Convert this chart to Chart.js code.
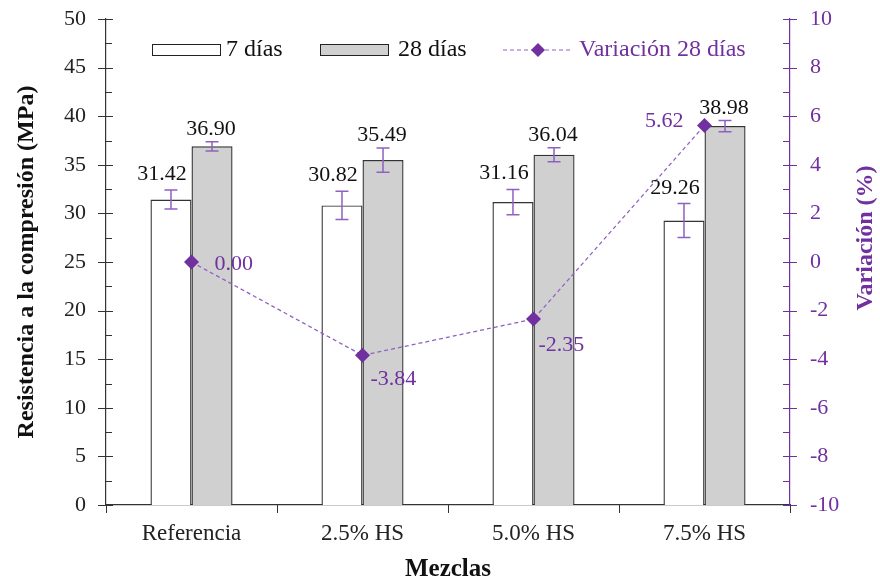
<!DOCTYPE html>
<html>
<head>
<meta charset="utf-8">
<script src="https://cdn.jsdelivr.net/npm/chart.js@4/dist/chart.umd.min.js"></script>
<style>
  html, body { margin: 0; padding: 0; background: #fff; }
  #wrap { width: 880px; height: 583px; }
</style>
</head>
<body>
<div id="wrap"><canvas id="chart" width="880" height="583"></canvas></div>
<script>
const mezclas = ["Referencia", "2.5% HS", "5.0% HS", "7.5% HS"];
const dias7 = [31.42, 30.82, 31.16, 29.26];
const dias28 = [36.90, 35.49, 36.04, 38.98];
const err7 = [0.98, 1.45, 1.3, 1.75];
const err28 = [0.48, 1.25, 0.72, 0.57];
const variacion = [0.00, -3.84, -2.35, 5.62];

const purple = "#7030A0";
const linePurple = "#9060c0";
const serif = "'Liberation Serif', 'Times New Roman', serif";

// ticks, error bars, labels, titles and legend drawn on top
const extras = {
    id: "extras",
    afterDatasetsDraw(chart) {
        const ctx = chart.ctx;
        const y = chart.scales.y;
        const y2 = chart.scales.y2;
        const area = chart.chartArea;
        ctx.save();

        // left axis ticks
        ctx.strokeStyle = "#333";
        ctx.lineWidth = 1;
        for (let v = 0; v <= 50; v += 2.5) {
            const py = Math.round(y.getPixelForValue(v)) + 0.5;
            ctx.beginPath();
            if (v % 5 === 0) {
                ctx.moveTo(area.left - 8, py);
                ctx.lineTo(area.left + 7, py);
            } else {
                ctx.moveTo(area.left, py);
                ctx.lineTo(area.left + 6, py);
            }
            ctx.stroke();
        }
        // right axis ticks
        ctx.strokeStyle = purple;
        for (let v = -10; v <= 10; v += 1) {
            const py = Math.round(y2.getPixelForValue(v)) + 0.5;
            ctx.beginPath();
            ctx.moveTo(area.right - 7, py);
            ctx.lineTo(v % 2 === 0 ? area.right + 7 : area.right, py);
            ctx.stroke();
        }
        // x axis ticks at category boundaries
        ctx.strokeStyle = "#333";
        const step = (area.right - area.left) / mezclas.length;
        for (let i = 0; i <= mezclas.length; i++) {
            const px = Math.round(area.left + i * step) + 0.5;
            ctx.beginPath();
            ctx.moveTo(px, area.bottom);
            ctx.lineTo(px, area.bottom + 8);
            ctx.stroke();
        }

        // error bars
        ctx.strokeStyle = linePurple;
        ctx.lineWidth = 1.5;
        const drawErr = (meta, vals, errs) => {
            meta.data.forEach((bar, i) => {
                const top = y.getPixelForValue(vals[i] + errs[i]);
                const bot = y.getPixelForValue(vals[i] - errs[i]);
                ctx.beginPath();
                ctx.moveTo(bar.x, top); ctx.lineTo(bar.x, bot);
                ctx.moveTo(bar.x - 6.5, top); ctx.lineTo(bar.x + 6.5, top);
                ctx.moveTo(bar.x - 6.5, bot); ctx.lineTo(bar.x + 6.5, bot);
                ctx.stroke();
            });
        };
        drawErr(chart.getDatasetMeta(0), dias7, err7);
        drawErr(chart.getDatasetMeta(1), dias28, err28);

        // bar value labels
        ctx.font = "22px " + serif;
        ctx.fillStyle = "#111";
        ctx.textAlign = "center";
        ctx.textBaseline = "alphabetic";
        chart.getDatasetMeta(0).data.forEach((bar, i) => {
            ctx.fillText(dias7[i].toFixed(2), bar.x - 9, y.getPixelForValue(dias7[i] + err7[i]) - 10);
        });
        chart.getDatasetMeta(1).data.forEach((bar, i) => {
            ctx.fillText(dias28[i].toFixed(2), bar.x - 1, y.getPixelForValue(dias28[i] + err28[i]) - 7);
        });

        // line labels
        ctx.fillStyle = purple;
        ctx.textBaseline = "middle";
        const pts = chart.getDatasetMeta(2).data;
        const offs = [[23, 2, "left"], [8, 24, "left"], [5, 26, "left"], [-21, -4, "right"]];
        pts.forEach((p, i) => {
            ctx.textAlign = offs[i][2];
            ctx.fillText(variacion[i].toFixed(2), p.x + offs[i][0], p.y + offs[i][1]);
        });

        // axis titles
        ctx.font = "bold 24px " + serif;
        ctx.fillStyle = "#111";
        ctx.textAlign = "center";
        ctx.save();
        ctx.translate(27, 262);
        ctx.rotate(-Math.PI / 2);
        ctx.fillText("Resistencia a la compresión (MPa)", 0, 0);
        ctx.restore();
        ctx.fillStyle = purple;
        ctx.save();
        ctx.translate(866, 238);
        ctx.rotate(-Math.PI / 2);
        ctx.fillText("Variación (%)", 0, 0);
        ctx.restore();
        ctx.fillStyle = "#111";
        ctx.font = "bold 25px " + serif;
        ctx.fillText("Mezclas", (area.left + area.right) / 2, 570);

        // legend
        const ly = 50;
        ctx.lineWidth = 1;
        ctx.strokeStyle = "#222";
        ctx.fillStyle = "#fff";
        ctx.fillRect(152.5, ly - 5.5, 68, 11);
        ctx.strokeRect(152.5, ly - 5.5, 68, 11);
        ctx.fillStyle = "#d0d0d0";
        ctx.fillRect(320.5, ly - 5.5, 68, 11);
        ctx.strokeRect(320.5, ly - 5.5, 68, 11);
        ctx.font = "24px " + serif;
        ctx.textAlign = "left";
        ctx.fillStyle = "#111";
        ctx.fillText("7 días", 226, ly);
        ctx.fillText("28 días", 398, ly);
        ctx.strokeStyle = linePurple;
        ctx.setLineDash([4, 3]);
        ctx.beginPath();
        ctx.moveTo(503, ly); ctx.lineTo(571, ly);
        ctx.stroke();
        ctx.setLineDash([]);
        ctx.fillStyle = purple;
        ctx.beginPath();
        ctx.moveTo(538, ly - 7); ctx.lineTo(545, ly); ctx.lineTo(538, ly + 7); ctx.lineTo(531, ly);
        ctx.closePath();
        ctx.fill();
        ctx.fillText("Variación 28 días", 579, ly);

        ctx.restore();
    }
};

function fixVertical(s, w) {
    s.width = w;
    s.paddingTop = 0;
    s.paddingBottom = 0;
}

new Chart(document.getElementById("chart"), {
    type: "bar",
    data: {
        labels: mezclas,
        datasets: [
            {
                label: "7 días",
                data: dias7,
                backgroundColor: "#ffffff",
                borderColor: "#333",
                borderWidth: 1.4,
                yAxisID: "y",
                order: 2,
            },
            {
                label: "28 días",
                data: dias28,
                backgroundColor: "#d0d0d0",
                borderColor: "#333",
                borderWidth: 1.4,
                yAxisID: "y",
                order: 2,
            },
            {
                type: "line",
                label: "Variación 28 días",
                data: variacion,
                borderColor: linePurple,
                borderWidth: 1.3,
                borderDash: [4, 3],
                backgroundColor: purple,
                pointStyle: "rectRot",
                pointRadius: 7.5,
                pointBorderWidth: 0,
                yAxisID: "y2",
                order: 1,
            },
        ],
    },
    options: {
        responsive: false,
        animation: false,
        layout: { padding: { top: 19, left: 0, right: 0, bottom: 0 }, autoPadding: false },
        datasets: { bar: { categoryPercentage: 0.48, barPercentage: 1.0 } },
        plugins: {
            legend: { display: false },
            tooltip: { enabled: false },
        },
        scales: {
            x: {
                grid: { display: false, drawTicks: false },
                border: { color: "#333", width: 1.2 },
                ticks: { color: "#222", font: { family: serif, size: 23 }, padding: 15 },
                afterFit(s) { s.height = 78; s.paddingLeft = 0; s.paddingRight = 0; },
            },
            y: {
                position: "left",
                min: 0, max: 50,
                grid: { display: false, drawTicks: false },
                border: { color: "#333", width: 1.2 },
                ticks: { stepSize: 5, color: "#222", font: { family: serif, size: 22 }, padding: 20 },
                afterFit(s) { fixVertical(s, 106); },
            },
            y2: {
                position: "right",
                min: -10, max: 10,
                grid: { display: false, drawTicks: false },
                border: { color: purple, width: 1.2 },
                ticks: { stepSize: 2, color: purple, font: { family: serif, size: 22 }, padding: 20 },
                afterFit(s) { fixVertical(s, 90); },
            },
        },
    },
    plugins: [extras],
});
</script>
</body>
</html>
